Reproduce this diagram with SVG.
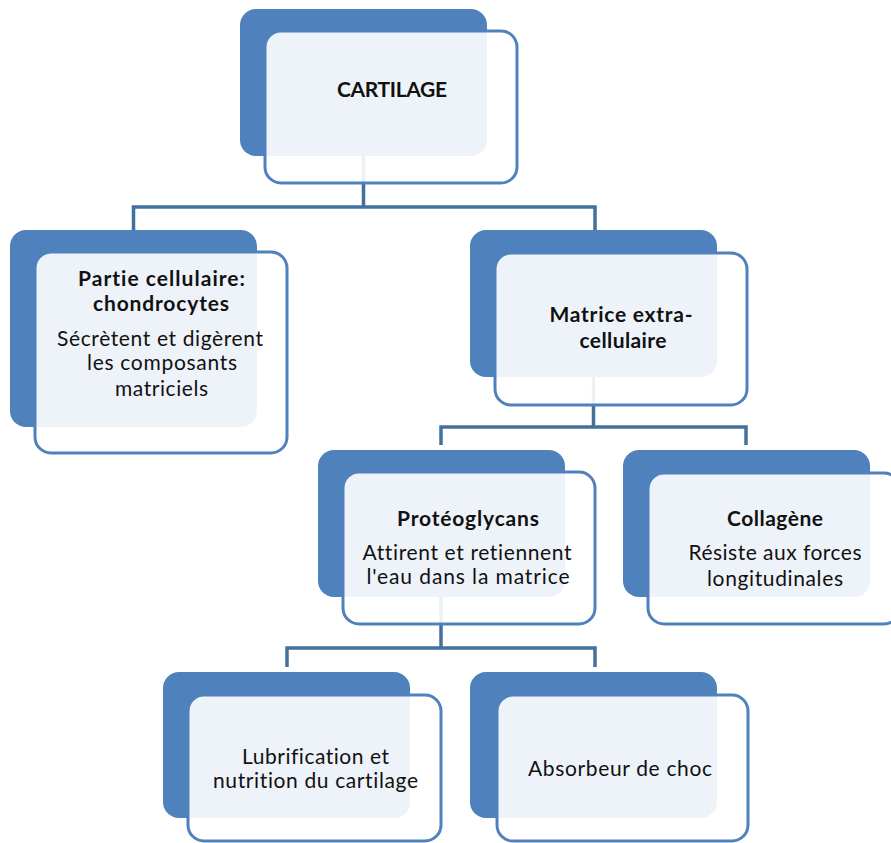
<svg xmlns="http://www.w3.org/2000/svg" width="891" height="843" viewBox="0 0 891 843">
<style>
.dk{fill:#4F81BD}
.fr{fill:#FFFFFF;fill-opacity:0.9;stroke:#4F81BD;stroke-width:3}
.c{fill:none;stroke:#41719C;stroke-width:3.5}
text{font-family:Lato,"Open Sans","Liberation Sans",sans-serif;fill:#111;text-anchor:middle;font-variant-ligatures:none;font-feature-settings:"liga" 0,"clig" 0,"dlig" 0}
.b{font-weight:bold;font-size:21px}
.r{font-size:21px}
</style>
<rect width="891" height="843" fill="#fff"/>
<g id="connectors">
<path class="c" d="M363.5 156V207M133.5 230V207H595V230"/>
<path class="c" d="M593.5 377V427M441 445V427H746V445"/>
<path class="c" d="M441 597V648M287 667V648H595V667"/>
</g>
<g id="n-cartilage">
<rect class="dk" x="240" y="9" width="247" height="147" rx="16"/>
<rect class="fr" x="265" y="31" width="252" height="152" rx="16"/>
<text class="b" x="392" y="97" textLength="110" lengthAdjust="spacing">CARTILAGE</text>
</g>
<g id="n-cellulaire">
<rect class="dk" x="10" y="230" width="247" height="197" rx="16"/>
<rect class="fr" x="35" y="252" width="252" height="201" rx="16"/>
<text class="b" x="161.5" y="286" textLength="167" lengthAdjust="spacing">Partie cellulaire:</text>
<text class="b" x="161" y="311" textLength="136" lengthAdjust="spacing">chondrocytes</text>
<text class="r" x="160" y="346" textLength="206" lengthAdjust="spacing">Sécrètent et digèrent</text>
<text class="r" x="162" y="370" textLength="150" lengthAdjust="spacing">les composants</text>
<text class="r" x="161.5" y="396" textLength="93" lengthAdjust="spacing">matriciels</text>
</g>
<g id="n-matrice">
<rect class="dk" x="470" y="230" width="247" height="147" rx="16"/>
<rect class="fr" x="495" y="253" width="252" height="152" rx="16"/>
<text class="b" x="621" y="322" textLength="143" lengthAdjust="spacing">Matrice extra-</text>
<text class="b" x="623" y="348" textLength="87" lengthAdjust="spacing">cellulaire</text>
</g>
<g id="n-proteoglycans">
<rect class="dk" x="318" y="450" width="247" height="147" rx="16"/>
<rect class="fr" x="343" y="472" width="252" height="152" rx="16"/>
<text class="b" x="468" y="526" textLength="142" lengthAdjust="spacing">Protéoglycans</text>
<text class="r" x="467" y="560" textLength="209" lengthAdjust="spacing">Attirent et retiennent</text>
<text class="r" x="468" y="584" textLength="203" lengthAdjust="spacing">l'eau dans la matrice</text>
</g>
<g id="n-collagene">
<rect class="dk" x="623" y="450" width="247" height="147" rx="16"/>
<rect class="fr" x="648" y="473" width="252" height="151" rx="16"/>
<text class="b" x="775" y="526" textLength="96" lengthAdjust="spacing">Collagène</text>
<text class="r" x="775" y="560" textLength="173" lengthAdjust="spacing">Résiste aux forces</text>
<text class="r" x="775" y="586" textLength="136" lengthAdjust="spacing">longitudinales</text>
</g>
<g id="n-lubrification">
<rect class="dk" x="163" y="672" width="247" height="146" rx="16"/>
<rect class="fr" x="188" y="695" width="253" height="146" rx="16"/>
<text class="r" x="315.5" y="764" textLength="147" lengthAdjust="spacing">Lubrification et</text>
<text class="r" x="315.5" y="788" textLength="205" lengthAdjust="spacing">nutrition du cartilage</text>
</g>
<g id="n-absorbeur">
<rect class="dk" x="470" y="672" width="247" height="146" rx="16"/>
<rect class="fr" x="497" y="695" width="251" height="146" rx="16"/>
<text class="r" x="620" y="776" textLength="184" lengthAdjust="spacing">Absorbeur de choc</text>
</g>
</svg>
